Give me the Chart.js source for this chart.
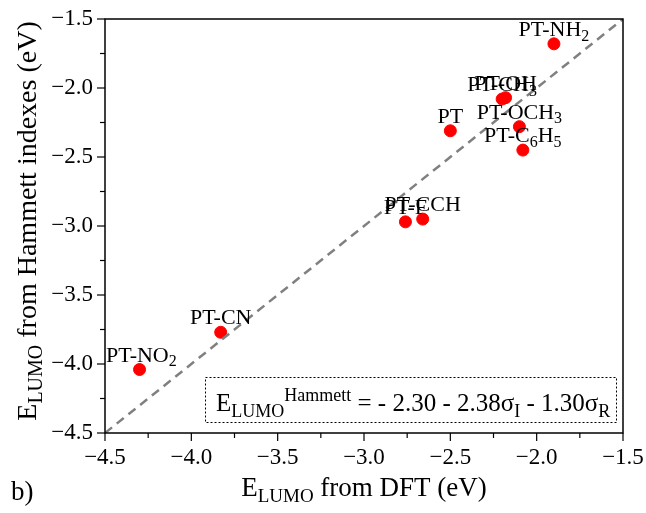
<!DOCTYPE html>
<html>
<head>
<meta charset="utf-8">
<script src="https://cdn.jsdelivr.net/npm/chart.js@4.4.0/dist/chart.umd.min.js"></script>
<style>
  html, body { margin: 0; padding: 0; background: #fff; }
  #wrap { width: 646px; height: 513px; position: relative; }
</style>
</head>
<body>
<div id="wrap"><canvas id="chart"></canvas></div>
<script>
// labels use _{..} for subscripts
const names = ['PT-NH_{2}', 'PT-CH_{3}', 'PT-OH', 'PT-OCH_{3}', 'PT-C_{6}H_{5}', 'PT', 'PT-F', 'PT-CCH', 'PT-CN', 'PT-NO_{2}'];
const dftValues = [-1.90, -2.20, -2.18, -2.10, -2.08, -2.50, -2.76, -2.66, -3.83, -4.30];
const hammettValues = [-1.68, -2.08, -2.07, -2.28, -2.45, -2.31, -2.97, -2.95, -3.77, -4.04];
const diagonal = [-4.5, -1.5];
const xTicks = [-4.5, -4.0, -3.5, -3.0, -2.5, -2.0, -1.5];
const yTicks = [-4.5, -4.0, -3.5, -3.0, -2.5, -2.0, -1.5];
const formula = 'E_{LUMO}^{Hammett} = - 2.30 - 2.38σ_{I} - 1.30σ_{R}';

const SERIF = '"Liberation Serif", "Times New Roman", serif';

const fmt = v => (v < 0 ? '\u2212' : '') + Math.abs(v).toFixed(1);

function parseRich(s) {
    const out = [];
    const re = /_\{([^}]*)\}|\^\{([^}]*)\}|[^_^]+/g;
    let m;
    while ((m = re.exec(s))) {
        if (m[1] !== undefined) out.push([m[1], 'sub']);
        else if (m[2] !== undefined) out.push([m[2], 'sup']);
        else out.push([m[0], 'n']);
    }
    return out;
}

function richWidth(ctx, segs, size) {
    let w = 0;
    segs.forEach(([t, mode]) => {
        ctx.font = (mode === 'n' ? size : Math.round(size * 0.72)) + 'px ' + SERIF;
        w += ctx.measureText(t).width;
    });
    return w;
}

function drawRich(ctx, segs, x, y, size) {
    ctx.textBaseline = 'alphabetic';
    ctx.textAlign = 'left';
    segs.forEach(([t, mode]) => {
        let dy = 0;
        if (mode === 'sub') dy = size * 0.22;
        if (mode === 'sup') dy = -size * 0.42;
        ctx.font = (mode === 'n' ? size : Math.round(size * 0.72)) + 'px ' + SERIF;
        ctx.fillText(t, x, y + dy);
        x += ctx.measureText(t).width;
    });
}

const extras = {
    id: 'extras',
    afterDraw(chart) {
        const ctx = chart.ctx;
        const a = chart.chartArea;
        const xs = chart.scales.x, ys = chart.scales.y;
        ctx.save();
        ctx.fillStyle = '#000';
        ctx.strokeStyle = '#000';

        // frame
        ctx.lineWidth = 1.5;
        ctx.strokeRect(a.left, a.top, a.right - a.left, a.bottom - a.top);

        // ticks, major and minor
        ctx.lineWidth = 1.2;
        xTicks.forEach((v, i) => {
            const px = xs.getPixelForValue(v);
            ctx.beginPath(); ctx.moveTo(px, a.bottom); ctx.lineTo(px, a.bottom + 8); ctx.stroke();
            if (i < xTicks.length - 1) {
                const mx = xs.getPixelForValue((v + xTicks[i + 1]) / 2);
                ctx.beginPath(); ctx.moveTo(mx, a.bottom); ctx.lineTo(mx, a.bottom + 5); ctx.stroke();
            }
        });
        yTicks.forEach((v, i) => {
            const py = ys.getPixelForValue(v);
            ctx.beginPath(); ctx.moveTo(a.left, py); ctx.lineTo(a.left - 8, py); ctx.stroke();
            if (i < yTicks.length - 1) {
                const my = ys.getPixelForValue((v + yTicks[i + 1]) / 2);
                ctx.beginPath(); ctx.moveTo(a.left, my); ctx.lineTo(a.left - 5, my); ctx.stroke();
            }
        });

        // point labels
        const meta = chart.getDatasetMeta(1);
        const lsize = 22;
        meta.data.forEach((el, i) => {
            const segs = parseRich(names[i]);
            const w = richWidth(ctx, segs, lsize);
            let lx = el.x - w / 2;
            lx = Math.max(a.left + 1, Math.min(a.right - w - 1, lx));
            drawRich(ctx, segs, lx, el.y - 8, lsize);
        });

        // formula box
        ctx.save();
        ctx.lineWidth = 1;
        ctx.setLineDash([2, 2]);
        ctx.strokeRect(a.left + 100.5, a.bottom - 55.5, a.right - a.left - 107, 45);
        ctx.restore();
        const fsegs = parseRich(formula);
        drawRich(ctx, fsegs, a.left + 111, a.bottom - 22, 25);

        // axis titles
        const xt = parseRich('E_{LUMO} from DFT (eV)');
        const xw = richWidth(ctx, xt, 27);
        drawRich(ctx, xt, (a.left + a.right) / 2 - xw / 2, 496, 27);

        const yt = parseRich('E_{LUMO} from Hammett indexes (eV)');
        const yw = richWidth(ctx, yt, 28);
        ctx.save();
        ctx.translate(36, 221);
        ctx.rotate(-Math.PI / 2);
        drawRich(ctx, yt, -yw / 2, 0, 28);
        ctx.restore();

        ctx.font = '27px ' + SERIF;
        ctx.fillText('b)', 11, 500);
        ctx.restore();
    }
};

new Chart(document.getElementById('chart'), {
    type: 'scatter',
    data: {
        datasets: [
            {
                type: 'line',
                data: diagonal.map(v => ({ x: v, y: v })),
                borderColor: '#808080',
                borderWidth: 2.5,
                borderDash: [9, 6],
                pointRadius: 0,
                fill: false
            },
            {
                data: dftValues.map((v, i) => ({ x: v, y: hammettValues[i] })),
                backgroundColor: '#ff0000',
                borderColor: '#ff0000',
                pointRadius: 6,
                pointHoverRadius: 6
            }
        ]
    },
    options: {
        responsive: true,
        maintainAspectRatio: false,
        animation: false,
        events: [],
        layout: { padding: { left: 0, top: 19, right: 23, bottom: 0 } },
        plugins: { legend: { display: false }, tooltip: { enabled: false } },
        scales: {
            x: {
                type: 'linear',
                min: -4.5, max: -1.5,
                afterFit: s => { s.height = 80; s.paddingLeft = 0; s.paddingRight = 0; },
                grid: { display: false, drawTicks: false },
                border: { display: false },
                ticks: {
                    stepSize: 0.5, padding: 11, color: '#000',
                    font: { family: SERIF, size: 23 },
                    callback: fmt
                }
            },
            y: {
                type: 'linear',
                min: -4.5, max: -1.5,
                afterFit: s => { s.width = 105; s.paddingTop = 0; s.paddingBottom = 0; },
                grid: { display: false, drawTicks: false },
                border: { display: false },
                ticks: {
                    stepSize: 0.5, padding: 12, color: '#000',
                    font: { family: SERIF, size: 23 },
                    callback: fmt
                }
            }
        }
    },
    plugins: [extras]
});
</script>
</body>
</html>
